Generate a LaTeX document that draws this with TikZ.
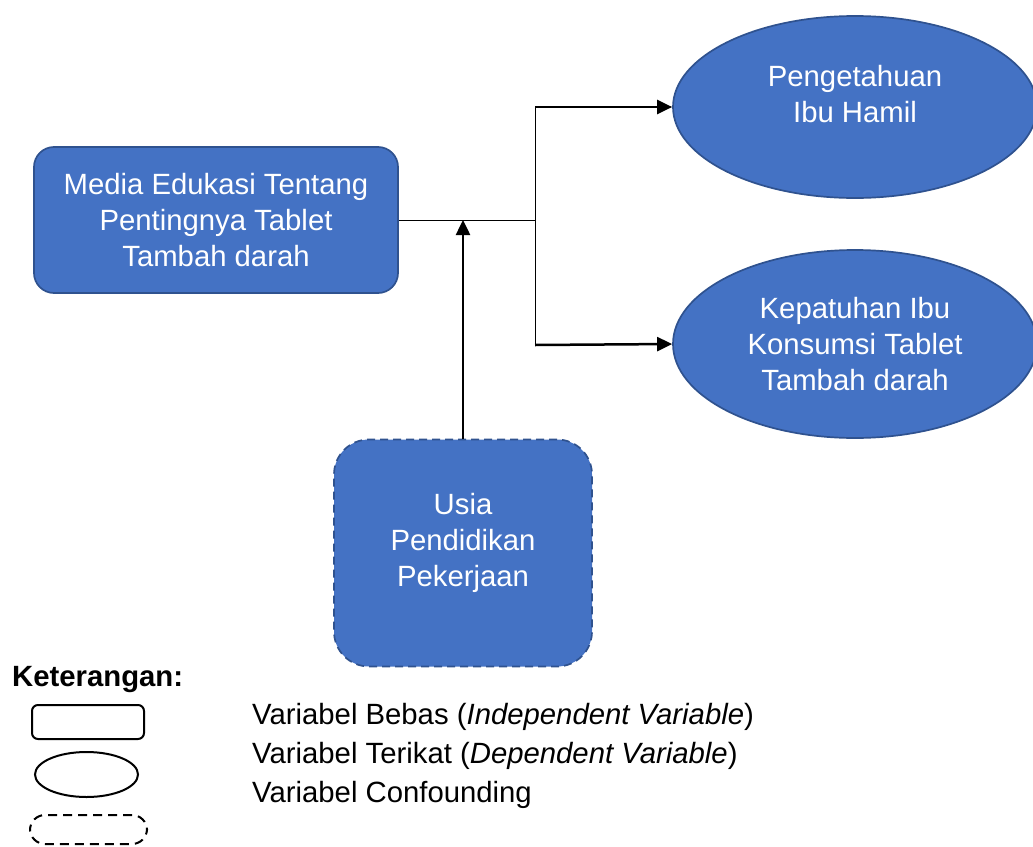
\documentclass[tikz,border=0pt]{standalone}
\usepackage{fontspec}
\setmainfont{Liberation Sans}
\usepackage{tikz}
\usetikzlibrary{shapes.geometric,arrows.meta,positioning}
\definecolor{isi}{HTML}{4472C4}
\definecolor{tepi}{HTML}{2F528F}

\begin{document}
\begin{tikzpicture}[x=1pt, y=-1pt, font=\fontsize{29.3}{36}\selectfont]
   \useasboundingbox (0,0) rectangle (1033,846);
   \begin{scope}[every node/.style={draw=tepi,fill=isi,line width=1.7pt,text=white,align=center,inner sep=0pt}]
    \node (media) [rounded corners=20pt,minimum width=364pt,minimum height=146pt] at (216,220) {Media Edukasi Tentang\\Pentingnya Tablet\\Tambah darah};
    \node (tahu) [ellipse,minimum width=364pt,minimum height=182pt] at (855,107) {};
    \node (patuh) [ellipse,minimum width=364pt,minimum height=188pt] at (855,344) {Kepatuhan Ibu\\Konsumsi Tablet\\Tambah darah};
    \node (usia) [rounded corners=35pt,dash pattern=on 8pt off 5pt,minimum width=258pt,minimum height=227pt] at (463,553) {};
   \end{scope}
   %teks di dalam bentuk
   \begin{scope}[every node/.style={text=white,align=center,inner sep=0pt}]
    \node (tahu teks) at (855,94) {Pengetahuan\\Ibu Hamil};
    \node (usia teks) at (463,543) {Usia\\Pendidikan\\Pekerjaan};
   \end{scope}
   \coordinate (cabang) at (535,220);
   \coordinate (atas) at (535,107);
   \coordinate (bawah) at (535,345);
   \coordinate (temu) at (463,220);
   \draw[line width=1pt] (media.east) -- (cabang);
   \draw[line width=1pt] (atas) -- (bawah);
   \begin{scope}[line width=2.5pt,-{Triangle[length=15pt,width=14pt]}]
    \draw (atas) -- (tahu.west);
    \draw (bawah) -- (patuh.west);
    \draw (usia.north) -- (temu);
   \end{scope}
   %keterangan
   \node (ket) [anchor=west,inner sep=0pt,font=\fontsize{29.3}{36}\selectfont\bfseries] at (12,680) {Keterangan:};
   \begin{scope}[every node/.style={draw=black,fill=white,line width=2pt,inner sep=0pt}]
    \node (bebas) [rounded corners=6pt,minimum width=112pt,minimum height=34pt] at (88,722) {};
    \node (terikat) [ellipse,minimum width=103pt,minimum height=45pt] at (86.5,774.5) {};
    \node (perancu) [rounded corners=15pt,dash pattern=on 9pt off 6pt,minimum width=117pt,minimum height=29pt] at (88.5,829.5) {};
   \end{scope}
   \begin{scope}[every node/.style={anchor=west,inner sep=0pt}]
    \node (ket1) at (252,717) {Variabel Bebas (\textit{Independent Variable})};
    \node (ket2) at (252,756) {Variabel Terikat (\textit{Dependent Variable})};
    \node (ket3) at (252,795) {Variabel Confounding};
   \end{scope}
\end{tikzpicture}
\end{document}
